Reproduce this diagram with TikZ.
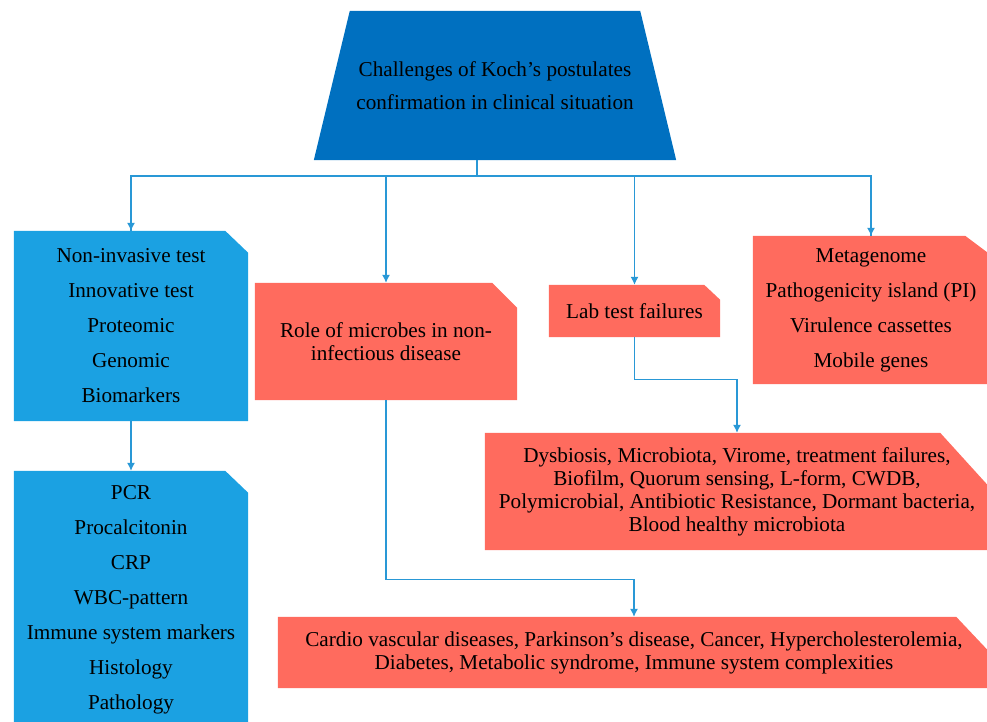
\documentclass[tikz,border=0pt]{standalone}
\usepackage{fontspec}
\setmainfont{Liberation Serif}
\usepackage{tikz}
\usetikzlibrary{arrows.meta}
\usetikzlibrary{backgrounds}
\usetikzlibrary{calc}
\definecolor{mydarkblue}{RGB}{0,112,192}
\definecolor{mylightblue}{RGB}{27,161,226}
\definecolor{mysalmon}{RGB}{255,107,94}
\definecolor{mylink}{RGB}{41,152,214}

% filled box with the north east corner cut off
\newcommand{\cutcorner}[4]{%
	\fill[#2] (#1.south west) -- (#1.north west) -- ([xshift=-#3]#1.north east)
		-- ([yshift=-#4]#1.north east) -- (#1.south east) -- cycle;}

\tikzset{
	box/.style={rectangle, inner sep=0pt, align=center},
	listtext/.style={font=\fontsize{21.2}{35}\selectfont},
	paratext/.style={font=\fontsize{21.2}{23}\selectfont},
	link/.style={draw=mylink, line width=1.1pt},
	linkarrow/.style={link, -{Latex[length=8pt,width=8pt]}}
}

\begin{document}
\begin{tikzpicture}[x=1pt, y=-1pt]
	\useasboundingbox (0,0) rectangle (987,721);

	\node[box, minimum width=362pt, minimum height=149pt,
		font=\fontsize{21.2}{33}\selectfont] (koch) at (495,85.5)
		{Challenges of Koch's postulates\\confirmation in clinical situation};

	\node[box, listtext, minimum width=234pt, minimum height=190pt] (tests) at (131,326)
		{Non-invasive test\\Innovative test\\Proteomic\\Genomic\\Biomarkers};
	\node[box, listtext, minimum width=234pt, minimum height=257pt] (markers) at (131,599.5)
		{PCR\\Procalcitonin\\CRP\\WBC-pattern\\Immune system markers\\Histology\\Pathology};

	\node[box, paratext, minimum width=262pt, minimum height=117pt] (role) at (386,341.5)
		{Role of microbes in non-\\infectious disease};
	\node[box, paratext, minimum width=171pt, minimum height=52pt] (lab) at (634.5,311)
		{Lab test failures};
	\node[box, listtext, minimum width=236pt, minimum height=148pt] (meta) at (871,310)
		{Metagenome\\Pathogenicity island (PI)\\Virulence cassettes\\Mobile genes};

	\node[box, paratext, minimum width=504pt, minimum height=117pt] (dysb) at (737,491.5)
		{Dysbiosis, Microbiota, Virome, treatment failures,\\
		Biofilm, Quorum sensing, L-form, CWDB,\\
		Polymicrobial, Antibiotic Resistance, Dormant bacteria,\\
		Blood healthy microbiota};
	\node[box, paratext, minimum width=712pt, minimum height=71pt] (disease) at (634,652.5)
		{Cardio vascular diseases, Parkinson's disease, Cancer, Hypercholesterolemia,\\
		Diabetes, Metabolic syndrome, Immune system complexities};

	\begin{scope}[on background layer]
		\fill[mydarkblue] ([xshift=36pt]koch.north west) -- ([xshift=-36pt]koch.north east)
			-- (koch.south east) -- (koch.south west) -- cycle;
		\cutcorner{tests}{mylightblue}{23pt}{22pt}
		\cutcorner{markers}{mylightblue}{23pt}{22pt}
		\cutcorner{role}{mysalmon}{25pt}{25pt}
		\cutcorner{lab}{mysalmon}{16pt}{15pt}
		\cutcorner{meta}{mysalmon}{24pt}{18pt}
		\cutcorner{dysb}{mysalmon}{49pt}{54pt}
		\cutcorner{disease}{mysalmon}{34pt}{36pt}
	\end{scope}

	% tree from the top box
	\coordinate (stem) at (477,176);
	\draw[link] (koch.south -| stem) -- (stem);
	\draw[link] (stem) -| (tests.north);
	\draw[linkarrow] (tests.north |- stem) -- (tests.north);
	\draw[linkarrow] (stem) -| (role.north);
	\draw[link] (stem) -| (meta.north);
	\draw[linkarrow] (meta.north |- stem) -- (meta.north);
	\draw[linkarrow] (lab.north |- stem) -- (lab.north);

	\draw[linkarrow] (tests.south) -- (markers.north);
	\draw[linkarrow] (role.south) |- ($(disease.north)+(0,-37)$) -- (disease.north);
	\draw[linkarrow] (lab.south) |- ($(dysb.north)+(0,-53)$) -- (dysb.north);
\end{tikzpicture}
\end{document}
